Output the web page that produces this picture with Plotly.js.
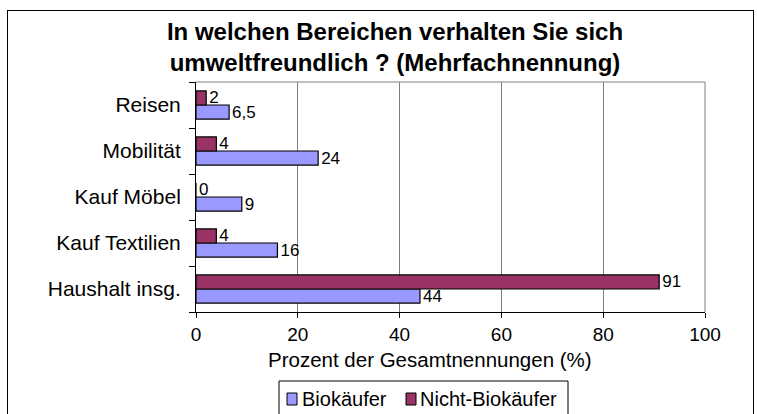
<!DOCTYPE html>
<html>
<head>
<meta charset="utf-8">
<script src="https://cdn.plot.ly/plotly-3.0.1.min.js"></script>
<style>
  html, body { margin: 0; padding: 0; background: #ffffff; }
  #wrap { position: relative; width: 757px; height: 414px; overflow: hidden; }
  #chart { width: 757px; height: 414px; }
  #frame { position: absolute; left: 7px; top: 10px; width: 745px; height: 420px; border: 1px solid #000; pointer-events: none; }
</style>
</head>
<body>
<div id="wrap">
  <div id="chart"></div>
  <div id="frame"></div>
</div>
<script>
// Categories listed bottom-to-top (Plotly draws the first category at the bottom)
const categories = ["Haushalt insg.", "Kauf Textilien", "Kauf Möbel", "Mobilität", "Reisen"];
const bioValues = [44, 16, 9, 24, 6.5];
const nichtBioValues = [91, 4, 0, 4, 2];
const seriesNames = ["Biokäufer", "Nicht-Biokäufer"];
const seriesColors = ["#9999FF", "#993366"];
const xTicks = [0, 20, 40, 60, 80, 100];

const FONT = 'Liberation Sans, Arial, sans-serif';
const fmt = v => String(v).replace('.', ',');

// plot area in pixels (for placing the legend box / axis title outside the plot)
const PL = 196, PR = 705, PT = 82, PB = 312;
const px = x => (x - PL) / (PR - PL);
const py = y => (PB - y) / (PB - PT);

const traces = [bioValues, nichtBioValues].map((vals, i) => ({
  type: 'bar', orientation: 'h', name: seriesNames[i],
  y: categories, x: vals,
  text: vals.map(fmt), textposition: 'outside', cliponaxis: false,
  constraintext: 'none',
  textfont: { family: FONT, size: 17, color: '#000' },
  marker: { color: seriesColors[i], line: { color: '#000', width: 1.2 } }
}));

// custom legend (compact Excel-style)
const legendShapes = [
  { type: 'rect', xref: 'paper', yref: 'paper', x0: px(279), x1: px(568), y0: py(381), y1: py(440),
    line: { color: '#000', width: 1 }, fillcolor: 'rgba(0,0,0,0)' },
  { type: 'rect', xref: 'paper', yref: 'paper', x0: px(287), x1: px(297), y0: py(393), y1: py(405),
    line: { color: '#000', width: 1 }, fillcolor: seriesColors[0] },
  { type: 'rect', xref: 'paper', yref: 'paper', x0: px(406), x1: px(416), y0: py(393), y1: py(405),
    line: { color: '#000', width: 1 }, fillcolor: seriesColors[1] }
];
const legendLabels = [
  { text: seriesNames[0], x: px(300) },
  { text: seriesNames[1], x: px(418) }
].map(l => ({
  text: l.text, showarrow: false, xref: 'paper', yref: 'paper',
  x: l.x, xanchor: 'left', y: py(399), yanchor: 'middle',
  font: { family: FONT, size: 20, color: '#000' }
}));

const layout = {
  width: 757, height: 414,
  margin: { l: PL, r: 757 - PR, t: PT, b: 414 - PB, pad: 0 },
  paper_bgcolor: '#ffffff', plot_bgcolor: '#ffffff',
  font: { family: FONT, size: 20, color: '#000' },
  title: {
    text: 'In welchen Bereichen verhalten Sie sich<br>umweltfreundlich ? (Mehrfachnennung)',
    font: { family: FONT, size: 24, color: '#000', weight: 'bold' },
    x: 395 / 757, xref: 'container', xanchor: 'center',
    y: 1 - 40 / 414, yref: 'container', yanchor: 'top'
  },
  barmode: 'group', bargap: 0.39, bargroupgap: 0,
  showlegend: false,
  xaxis: {
    range: [0, 100], tickvals: xTicks, ticktext: xTicks.map(String),
    showgrid: true, gridcolor: '#808080', gridwidth: 1,
    zeroline: false, showline: true, linecolor: '#000', linewidth: 1,
    ticks: 'outside', ticklen: 5, tickcolor: '#000', ticklabelstandoff: 0,
    tickfont: { size: 19 }, fixedrange: true, automargin: false
  },
  yaxis: {
    type: 'category', categoryorder: 'array', categoryarray: categories,
    showline: true, linecolor: '#000', linewidth: 1,
    ticks: 'outside', ticklen: 6, tickcolor: '#000', tickson: 'boundaries',
    showgrid: false, zeroline: false, ticklabelstandoff: 10,
    tickfont: { size: 21 }, fixedrange: true, automargin: false
  },
  shapes: [
    { type: 'line', xref: 'paper', yref: 'paper', x0: 0, x1: 1, y0: 1, y1: 1, line: { color: '#808080', width: 1 } },
    { type: 'line', xref: 'paper', yref: 'paper', x0: 1, x1: 1, y0: 0, y1: 1, line: { color: '#808080', width: 1 } }
  ].concat(legendShapes),
  annotations: [
    {
      text: 'Prozent der Gesamtnennungen (%)', showarrow: false,
      xref: 'paper', yref: 'paper', x: px(430), xanchor: 'center',
      y: py(359), yanchor: 'middle',
      font: { family: FONT, size: 20.5, color: '#000' }
    }
  ].concat(legendLabels)
};

Plotly.newPlot('chart', traces, layout, { displayModeBar: false, staticPlot: true });
</script>
</body>
</html>
